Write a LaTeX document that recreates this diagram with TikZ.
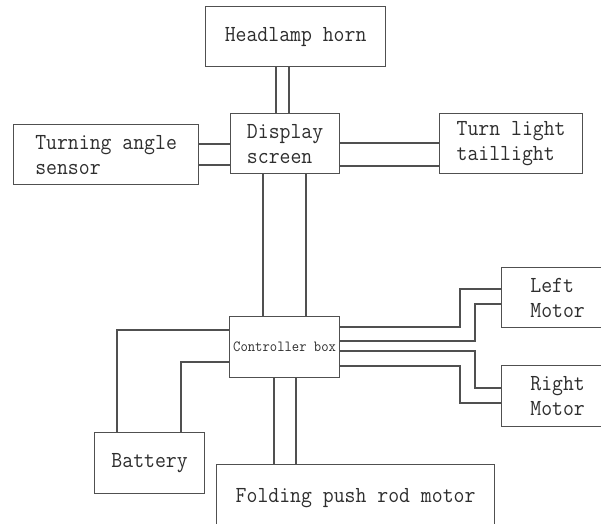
\documentclass[tikz,border=0pt]{standalone}
\usepackage{fontspec}
\newfontfamily\boxfont[FakeStretch=0.92]{Latin Modern Mono}
\usepackage{tikz}
\definecolor{linegray}{HTML}{505050}
\definecolor{textgray}{HTML}{2E2E2E}

\begin{document}
\begin{tikzpicture}[x=1pt, y=-1pt,
    box/.style={draw=linegray, line width=1.2pt, inner sep=0pt, align=left, anchor=north west,
        text=textgray, font=\boxfont\fontsize{23}{25}\selectfont},
    wire/.style={draw=linegray, line width=1.2pt}]
    % FULL AREA (boxes at the edges run out of it)
    \useasboundingbox (0,0) rectangle (601,523);
    \clip (0,0) rectangle (601,523);

    % BOXES
    \node[box, minimum width=180, minimum height=60, align=center] (horn) at (205,6) {Headlamp horn};
    \node[box, minimum width=109, minimum height=60] (display) at (230,113) {Display\\screen};
    \node[box, minimum width=185, minimum height=60] (sensor) at (13,124) {Turning angle\\sensor};
    \node[box, minimum width=143, minimum height=60] (turn) at (439,113) {Turn light\\taillight};
    \node[box, minimum width=110, minimum height=61, font=\boxfont\fontsize{15.5}{17}\selectfont] (ctrl) at (229,316) {Controller box};
    \node[box, minimum width=110, minimum height=61] (battery) at (94,432) {Battery};
    \node[box, minimum width=278, minimum height=66] (folding) at (216,464) {Folding push rod motor};
    \node[box, minimum width=112, minimum height=60] (lmotor) at (501,267) {Left\\Motor};
    \node[box, minimum width=112, minimum height=61] (rmotor) at (501,365) {Right\\Motor};

    % DOUBLE WIRES, VERTICAL
    \foreach \x in {276,289} \draw[wire] (horn.south -| \x,0) -- (display.north -| \x,0);
    \foreach \x in {263,306} \draw[wire] (display.south -| \x,0) -- (ctrl.north -| \x,0);
    \foreach \x in {274,296} \draw[wire] (ctrl.south -| \x,0) -- (folding.north -| \x,0);

    % DOUBLE WIRES, HORIZONTAL
    \foreach \y in {144,165} \draw[wire] (sensor.east |- 0,\y) -- (display.west |- 0,\y);
    \foreach \y in {143,166} \draw[wire] (display.east |- 0,\y) -- (turn.west |- 0,\y);

    % BATTERY
    \foreach \y/\x in {330/117, 362/181}
        \draw[wire] (ctrl.west |- 0,\y) -| (battery.north -| \x,0);

    % MOTORS
    \foreach \ya/\xm/\yb in {327/460/289, 341/475/304}
        \draw[wire] (ctrl.east |- 0,\ya) -| (\xm,\yb) -- (lmotor.west |- 0,\yb);
    \foreach \ya/\xm/\yb in {351/475/388, 366/460/403}
        \draw[wire] (ctrl.east |- 0,\ya) -| (\xm,\yb) -- (rmotor.west |- 0,\yb);

\end{tikzpicture}
\end{document}
